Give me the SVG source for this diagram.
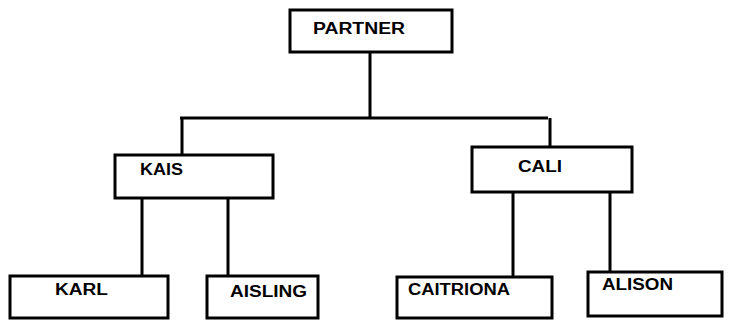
<svg xmlns="http://www.w3.org/2000/svg" width="735" height="320" viewBox="0 0 735 320">
<style>
.box{fill:#fff;stroke:#000;stroke-width:3}
.lbl{font-family:"Liberation Sans",Arial,sans-serif;font-weight:bold;font-size:16px;fill:#000}
.ln{stroke:#000;stroke-width:3;fill:none}
</style>
<rect width="735" height="320" fill="#fff"/>
<g id="connectors">
<path class="ln" d="M370 52V118M180 118H548M182 118V155M550 118V147M142 198V276M228 198V276M513 192V277M610 192V272"/>
</g>
<g id="partner"><rect class="box" x="290" y="10" width="162" height="42"/><text class="lbl" x="313" y="34" textLength="92" lengthAdjust="spacingAndGlyphs">PARTNER</text></g>
<g id="kais"><rect class="box" x="115" y="155" width="158" height="43"/><text class="lbl" x="140" y="175" textLength="43" lengthAdjust="spacingAndGlyphs">KAIS</text></g>
<g id="cali"><rect class="box" x="472" y="147" width="160" height="45"/><text class="lbl" x="518" y="172" textLength="44" lengthAdjust="spacingAndGlyphs">CALI</text></g>
<g id="karl"><rect class="box" x="10" y="276" width="158" height="42"/><text class="lbl" x="55" y="295" textLength="53" lengthAdjust="spacingAndGlyphs">KARL</text></g>
<g id="aisling"><rect class="box" x="207" y="276" width="111" height="42"/><text class="lbl" x="230" y="297" textLength="77" lengthAdjust="spacingAndGlyphs">AISLING</text></g>
<g id="caitriona"><rect class="box" x="397" y="277" width="155" height="41"/><text class="lbl" x="408" y="295" textLength="102" lengthAdjust="spacingAndGlyphs">CAITRIONA</text></g>
<g id="alison"><rect class="box" x="588" y="272" width="134" height="44"/><text class="lbl" x="602" y="290" textLength="71" lengthAdjust="spacingAndGlyphs">ALISON</text></g>
</svg>
